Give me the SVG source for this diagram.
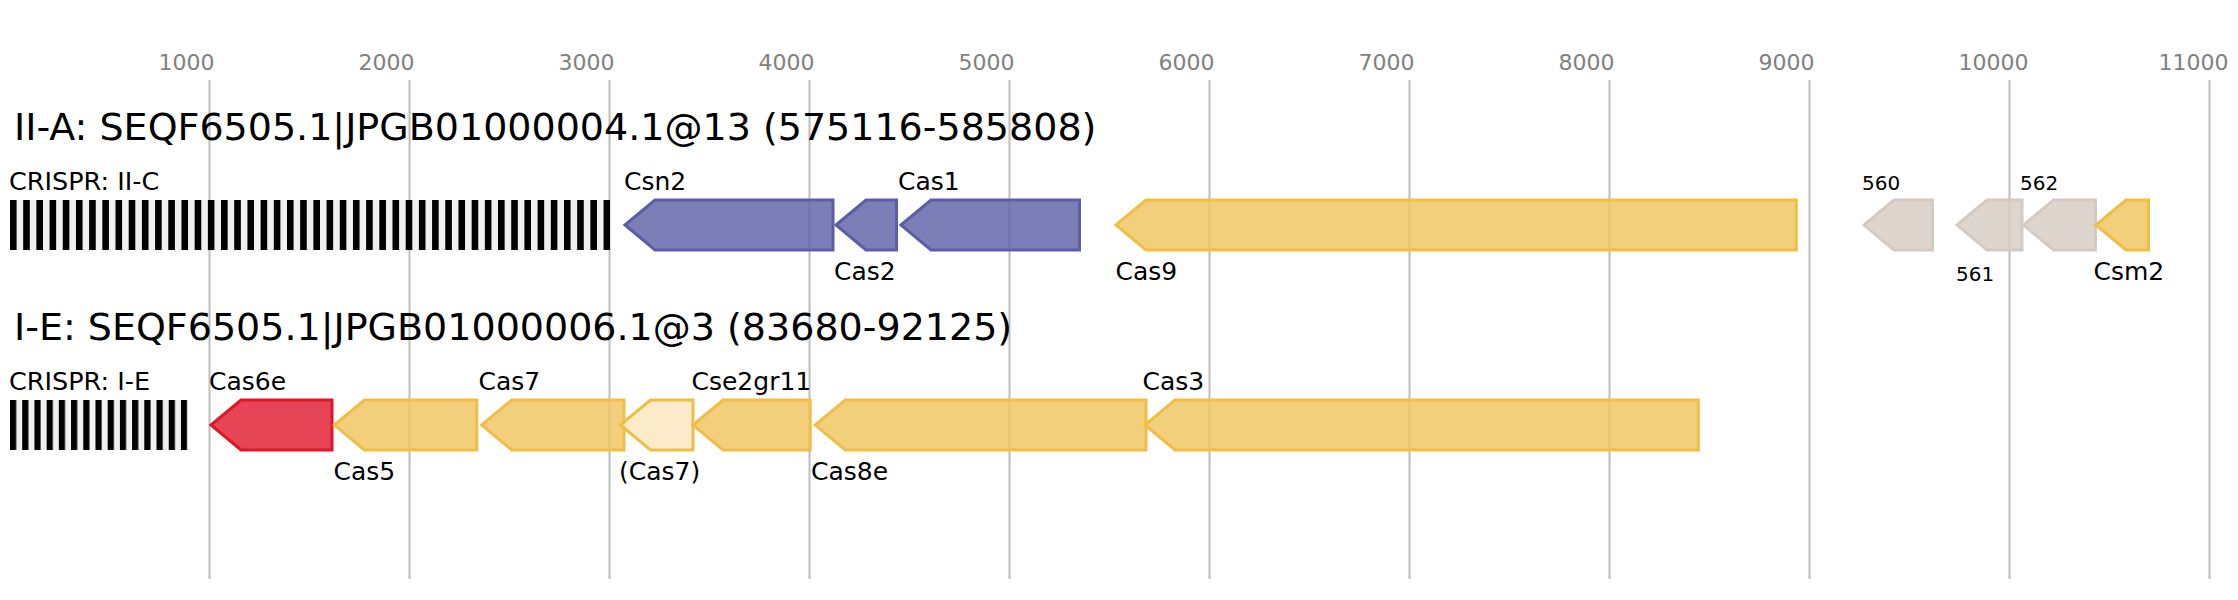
<svg xmlns="http://www.w3.org/2000/svg" width="2238" height="600" viewBox="0 0 2238 600">
<style>
text{font-family:"DejaVu Sans","Liberation Sans",sans-serif;fill:#000}
.tick{font-size:22px;fill:#808080}
.title{font-size:38px}
.lab{font-size:25px}
.crl{font-size:25.5px}
.sm{font-size:20px}
.grid line{stroke:#bdbdbd;stroke-width:2}
.gene{stroke-width:3;stroke-linejoin:miter}
.blue{fill:#5b5ea6;fill-opacity:.8;stroke:#5b5ea6}
.yel{fill:#efc45a;fill-opacity:.8;stroke:#f0bd47}
.lite{fill:#f9e4b8;fill-opacity:.75;stroke:#f0bd47}
.red{fill:#e0162b;fill-opacity:.8;stroke:#e0162b}
.gray{fill:#d5cac2;fill-opacity:.8;stroke:#d5cac2}
.crbg{fill:#f0f0f0}
</style>
<defs>
<pattern id="cr1" x="10" y="0" width="13.19" height="600" patternUnits="userSpaceOnUse"><rect x="0" y="0" width="6.6" height="600" fill="#000"/></pattern>
<pattern id="cr2" x="10" y="0" width="12.21" height="600" patternUnits="userSpaceOnUse"><rect x="0" y="0" width="6.2" height="600" fill="#000"/></pattern>
</defs>
<rect width="2238" height="600" fill="#fff"/>
<g class="grid">
<line x1="209.5" y1="80" x2="209.5" y2="579"/>
<line x1="409.5" y1="80" x2="409.5" y2="579"/>
<line x1="609.5" y1="80" x2="609.5" y2="579"/>
<line x1="809.5" y1="80" x2="809.5" y2="579"/>
<line x1="1009.5" y1="80" x2="1009.5" y2="579"/>
<line x1="1209.5" y1="80" x2="1209.5" y2="579"/>
<line x1="1409.5" y1="80" x2="1409.5" y2="579"/>
<line x1="1609.5" y1="80" x2="1609.5" y2="579"/>
<line x1="1809.5" y1="80" x2="1809.5" y2="579"/>
<line x1="2009.5" y1="80" x2="2009.5" y2="579"/>
<line x1="2209.5" y1="80" x2="2209.5" y2="579"/>
</g>
<g id="ticks">
<text class="tick" x="158.5" y="70">1000</text>
<text class="tick" x="358.5" y="70">2000</text>
<text class="tick" x="558.5" y="70">3000</text>
<text class="tick" x="758.5" y="70">4000</text>
<text class="tick" x="958.5" y="70">5000</text>
<text class="tick" x="1158.5" y="70">6000</text>
<text class="tick" x="1358.5" y="70">7000</text>
<text class="tick" x="1558.5" y="70">8000</text>
<text class="tick" x="1758.5" y="70">9000</text>
<text class="tick" x="1958.5" y="70">10000</text>
<text class="tick" x="2158.5" y="70">11000</text>
</g>
<text id="title1" class="title" x="14" y="140">II-A: SEQF6505.1|JPGB01000004.1@13 (575116-585808)</text>
<text id="title2" class="title" x="14" y="340">I-E: SEQF6505.1|JPGB01000006.1@3 (83680-92125)</text>
<g id="crispr1">
<rect class="crbg" x="10" y="200" width="600" height="50"/>
<rect x="10" y="200" width="600" height="50" fill="url(#cr1)"/>
<text class="crl" x="9" y="190">CRISPR: II-C</text>
</g>
<g id="crispr2">
<rect class="crbg" x="10" y="400" width="177.5" height="50"/>
<rect x="10" y="400" width="177.5" height="50" fill="url(#cr2)"/>
<text class="crl" x="9" y="390">CRISPR: I-E</text>
</g>
<g id="csn2"><path class="gene blue" d="M625,225L655,200H833V250H655Z"/><text class="lab" x="624" y="190">Csn2</text></g>
<g id="cas2"><path class="gene blue" d="M836,225L866,200H896.5V250H866Z"/><text class="lab" x="834" y="280">Cas2</text></g>
<g id="cas1"><path class="gene blue" d="M901,225L931,200H1079.5V250H931Z"/><text class="lab" x="898" y="190">Cas1</text></g>
<g id="cas9"><path class="gene yel" d="M1116,225L1146,200H1796.3V250H1146Z"/><text class="lab" x="1115.5" y="280">Cas9</text></g>
<g id="g560"><path class="gene gray" d="M1864,225L1894,200H1932.5V250H1894Z"/><text class="sm" x="1862" y="190">560</text></g>
<g id="g561"><path class="gene gray" d="M1957,225L1987,200H2022V250H1987Z"/><text class="sm" x="1956" y="281">561</text></g>
<g id="g562"><path class="gene gray" d="M2023.5,225L2053.5,200H2095.5V250H2053.5Z"/><text class="sm" x="2020" y="190">562</text></g>
<g id="csm2"><path class="gene yel" d="M2096,225L2126,200H2148.5V250H2126Z"/><text class="lab" x="2093.5" y="280">Csm2</text></g>
<g id="cas6e"><path class="gene red" d="M211,425L241,400H332V450H241Z"/><text class="lab" x="209" y="390">Cas6e</text></g>
<g id="cas5"><path class="gene yel" d="M334.4,425L364.4,400H476.8V450H364.4Z"/><text class="lab" x="333.5" y="480">Cas5</text></g>
<g id="cas7"><path class="gene yel" d="M481.7,425L511.7,400H624V450H511.7Z"/><text class="lab" x="478.5" y="390">Cas7</text></g>
<g id="cas7b"><path class="gene lite" d="M620.4,425L650.4,400H693V450H650.4Z"/><text class="lab" x="619" y="480">(Cas7)</text></g>
<g id="cse2gr11"><path class="gene yel" d="M693,425L723,400H810.2V450H723Z"/><text class="lab" x="691.5" y="390">Cse2gr11</text></g>
<g id="cas8e"><path class="gene yel" d="M815.3,425L845.3,400H1146V450H845.3Z"/><text class="lab" x="811" y="480">Cas8e</text></g>
<g id="cas3"><path class="gene yel" d="M1145,425L1175,400H1698.3V450H1175Z"/><text class="lab" x="1142.5" y="390">Cas3</text></g>
<g id="connectors"></g>
</svg>
